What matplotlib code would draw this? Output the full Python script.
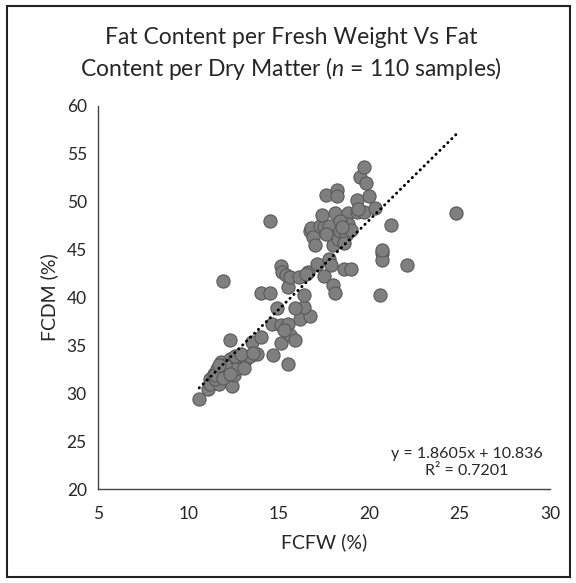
import matplotlib
matplotlib.use("Agg")
import matplotlib.pyplot as plt
from matplotlib.patches import Rectangle
import numpy as np

# FCFW (%) and FCDM (%) for the 110 samples
fcfw = [10.6, 11.1, 11.2, 11.2, 11.7, 11.4, 11.6, 11.8, 11.9, 12.1,
        12.2, 12.3, 12.4, 12.5, 12.3, 12.7, 12.8, 12.9, 13.0, 13.2,
        13.5, 13.4, 13.8, 14.0, 12.6, 12.0, 11.5,
        14.7, 15.1, 15.5, 14.6, 15.1, 15.5, 15.6, 15.9, 14.9, 16.2,
        16.7, 16.4, 15.9, 16.4, 14.0, 14.5, 15.5, 15.1, 15.2, 15.4,
        15.6, 16.1, 16.6, 17.1, 17.5, 17.8, 17.9, 18.0, 18.1, 18.6,
        19.0, 11.9, 14.5,
        16.7, 16.8, 16.9, 17.0, 17.3, 17.5, 17.8, 17.4, 17.6, 18.2,
        18.2, 18.1, 18.0, 18.0, 18.3, 18.4, 18.7, 18.6, 18.8, 18.8,
        19.0, 18.4, 19.3, 19.3, 19.7, 19.5, 19.7, 19.8, 20.0, 20.3,
        20.6, 20.7, 20.7, 20.7, 21.2, 22.1, 24.8,
        11.5, 11.9, 12.3, 12.6, 13.1, 12.9, 13.6, 11.7, 15.3, 17.6,
        18.5, 19.4, 16.5]
fcdm = [29.4, 30.4, 31.5, 31.0, 31.0, 32.0, 32.5, 33.3, 32.7, 32.3,
        32.7, 33.6, 30.8, 31.9, 35.6, 33.3, 33.8, 32.7, 33.1, 33.6,
        35.3, 33.9, 34.1, 35.9, 32.5, 32.9, 31.5,
        34.0, 35.2, 33.0, 37.2, 37.1, 37.2, 36.1, 35.5, 38.9, 37.7,
        38.1, 39.0, 38.9, 40.2, 40.5, 40.5, 41.1, 43.3, 42.6, 42.3,
        42.1, 42.1, 42.6, 43.5, 42.2, 44.0, 43.4, 41.3, 40.5, 43.0,
        43.0, 41.7, 48.0,
        46.9, 47.2, 46.3, 45.5, 47.4, 47.3, 47.4, 48.6, 50.7, 51.2,
        50.6, 48.8, 46.3, 45.5, 46.1, 46.9, 46.5, 45.7, 48.8, 47.6,
        47.0, 48.0, 50.1, 48.9, 48.9, 52.5, 53.6, 51.9, 50.6, 49.3,
        40.2, 44.6, 43.9, 44.9, 47.5, 43.4, 48.8,
        31.9, 31.6, 32.0, 33.9, 32.6, 34.1, 34.2, 32.9, 36.6, 46.6,
        47.3, 49.2, 42.4]

slope = 1.8605
intercept = 10.836
r2 = 0.7201

plt.rcParams['font.family'] = ['Lato', 'DejaVu Sans']
plt.rcParams['mathtext.fontset'] = 'custom'
plt.rcParams['mathtext.it'] = 'Lato:italic'
plt.rcParams['mathtext.rm'] = 'Lato'

fig = plt.figure(figsize=(5.76, 5.83), dpi=100)
ax = fig.add_axes([0.170, 0.161, 0.785, 0.658])

ax.scatter(fcfw, fcdm, s=90, color='#7f7f7f', edgecolors='#595959',
           linewidths=0.8, zorder=2)

# linear trendline (dotted, round dots)
xs = np.array([min(fcfw), max(fcfw)])
ax.plot(xs, slope * xs + intercept, color='black', lw=2.1,
        linestyle=(0, (0.1, 1.8)), dash_capstyle='round', zorder=3)

ax.set_xlim(5, 30)
ax.set_ylim(20, 60)
ax.set_xticks(range(5, 31, 5))
ax.set_yticks(range(20, 61, 5))
ax.tick_params(length=0, labelsize=12.5, colors='#262626', pad=12)
ax.tick_params(axis='y', pad=8)
for s in ['top', 'right']:
    ax.spines[s].set_visible(False)
for s in ['left', 'bottom']:
    ax.spines[s].set_color('#444444')
    ax.spines[s].set_linewidth(1.0)

ax.set_xlabel('FCFW (%)', fontsize=14, color='#262626', labelpad=8)
ax.set_ylabel('FCDM (%)', fontsize=14, color='#262626', labelpad=6)

fig.text(0.505, 0.936, 'Fat Content per Fresh Weight Vs Fat',
         ha='center', va='center', fontsize=16.5, color='#262626')
fig.text(0.505, 0.883, 'Content per Dry Matter ($\\mathit{n}$ = 110 samples)',
         ha='center', va='center', fontsize=16.5, color='#262626')

ax.text(0.816, 0.07, 'y = %.4fx + %.3f\nR\u00b2 = %.4f' % (slope, intercept, r2),
        transform=ax.transAxes, ha='center', va='center', fontsize=11.5,
        color='#262626', linespacing=1.3)

fig.patches.append(Rectangle((7 / 576, 6 / 583), 563 / 576, 571 / 583,
                             transform=fig.transFigure, fill=False,
                             edgecolor='#222222', linewidth=1.5))

fig.savefig('out.png', dpi=100)
